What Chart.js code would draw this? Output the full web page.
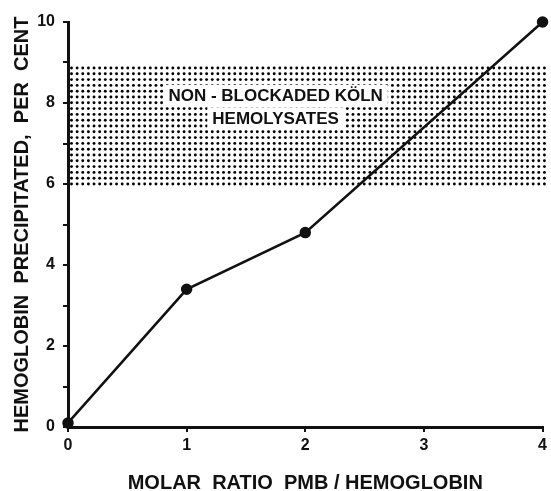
<!DOCTYPE html>
<html>
<head>
<meta charset="utf-8">
<script src="https://cdn.jsdelivr.net/npm/chart.js@4/dist/chart.umd.min.js"></script>
<style>
  html, body { margin: 0; padding: 0; background: #fff; }
  #wrap { width: 551px; height: 491px; }
</style>
</head>
<body>
<div id="wrap"><canvas id="c" width="551" height="491"></canvas></div>
<script>
// ---- data ----
const molarRatio = [0, 1, 2, 4];
const precipitated = [0.1, 3.4, 4.8, 10];
const xTicks = [0, 1, 2, 3, 4];
const yTicks = [0, 2, 4, 6, 8, 10];
const bandRange = [6, 8.9];             // non-blockaded Köln hemolysates, per cent
const bandLabel = ['NON - BLOCKADED KÖLN', 'HEMOLYSATES'];
const xTitle = 'MOLAR  RATIO  PMB / HEMOGLOBIN';
const yTitle = 'HEMOGLOBIN  PRECIPITATED,  PER  CENT';

const FONT = "'Liberation Sans', Arial, sans-serif";

const bandPlugin = {
  id: 'band',
  beforeDatasetsDraw(chart) {
    const {ctx, scales: {x, y}} = chart;
    const x0 = x.getPixelForValue(x.min), x1 = x.getPixelForValue(x.max);
    const yTop = y.getPixelForValue(bandRange[1]), yBot = y.getPixelForValue(bandRange[0]);
    ctx.save();
    ctx.fillStyle = '#000';
    const pitchX = 5.63, pitchY = 5.8;
    for (let py = yBot; py >= yTop - 1; py -= pitchY) {
      for (let px = x0 + 3.5; px <= x1 + 2; px += pitchX) {
        ctx.beginPath();
        ctx.arc(px, py, 1.45, 0, Math.PI * 2);
        ctx.fill();
      }
    }
    // label with cleared background
    const cx = x.getPixelForValue(1.75);
    const lineY = [y.getPixelForValue(8.18), y.getPixelForValue(7.62)];
    ctx.font = "bold 17px " + FONT;
    ctx.textAlign = 'center';
    ctx.textBaseline = 'middle';
    bandLabel.forEach((t, i) => {
      const w = ctx.measureText(t).width;
      ctx.fillStyle = '#fff';
      ctx.fillRect(cx - w / 2 - 5, lineY[i] - 11, w + 10, 22);
    });
    ctx.fillStyle = '#111';
    bandLabel.forEach((t, i) => ctx.fillText(t, cx, lineY[i] + 1));
    ctx.restore();
  }
};

new Chart(document.getElementById('c'), {
  type: 'line',
  data: {
    datasets: [{
      data: molarRatio.map((v, i) => ({x: v, y: precipitated[i]})),
      borderColor: '#111',
      backgroundColor: '#111',
      borderWidth: 2.5,
      pointRadius: 4.5,
      pointHoverRadius: 4.5,
      tension: 0,
      fill: false,
      clip: false
    }]
  },
  options: {
    responsive: false,
    animation: false,
    devicePixelRatio: 1,
    layout: { padding: { left: 0, right: 7, top: 22, bottom: 0 } },
    plugins: { legend: { display: false }, tooltip: { enabled: false } },
    scales: {
      x: {
        type: 'linear',
        min: 0, max: 4,
        afterFit(s) { s.height = 64; },
        afterBuildTicks(s) { s.ticks = xTicks.map(v => ({value: v})); },
        border: { display: true, color: '#111', width: 3 },
        grid: { drawOnChartArea: false, drawTicks: true, tickLength: 5, lineWidth: 2, color: '#111' },
        ticks: { color: '#111', padding: 4, font: { family: FONT, size: 16, weight: 'bold' }, maxRotation: 0 },
        title: { display: true, text: xTitle, color: '#111', padding: { top: 0, bottom: -2 },
                 font: { family: FONT, size: 20, weight: 'bold', lineHeight: 1 } }
      },
      y: {
        type: 'linear',
        min: 0, max: 10,
        afterFit(s) { s.width = 68; },
        afterBuildTicks(s) {
          const t = [];
          for (let v = 0; v <= 10; v++) t.push({value: v});
          s.ticks = t;
        },
        border: { display: true, color: '#111', width: 3 },
        grid: { drawOnChartArea: false, drawTicks: true, tickLength: 5, lineWidth: 2, color: '#111' },
        ticks: {
          color: '#111', padding: 8, autoSkip: false,
          font: { family: FONT, size: 16, weight: 'bold' },
          callback: v => (yTicks.includes(v) ? String(v) : '')
        },
        title: { display: true, text: yTitle, color: '#111', padding: { top: 10, bottom: 0 },
                 font: { family: FONT, size: 20, weight: 'bold', lineHeight: 1.2 } }
      }
    }
  },
  plugins: [bandPlugin]
});
</script>
</body>
</html>
